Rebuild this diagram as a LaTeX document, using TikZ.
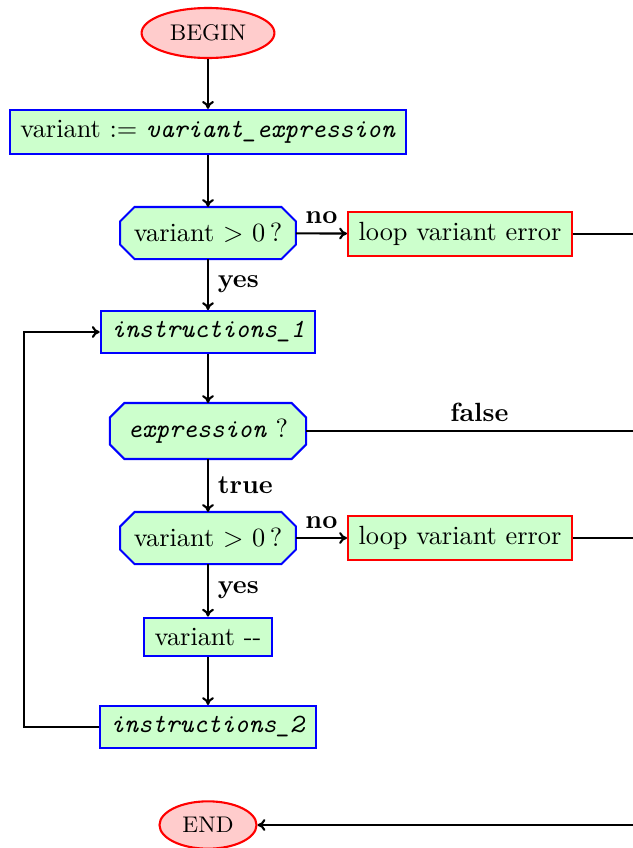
\documentclass[tikz,border=0pt]{standalone}
\usepackage{amsmath, amssymb}
\usetikzlibrary{arrows.meta, backgrounds, shapes.geometric}

\tikzset{
  terminal/.style={ellipse, draw=red, fill=red!20, thick, font=\fontsize{8.6pt}{10pt}\selectfont},
  stmt/.style={rectangle, draw=blue, fill=green!20, thick, inner sep=4pt},
  errbox/.style={rectangle, draw=red, fill=green!20, thick, inner sep=4pt},
  test/.style={rectangle, thick, inner xsep=6.45pt, inner ysep=5.6pt, minimum height=19pt},
  testframe/.style={draw=blue, fill=green!20, thick},
  flow/.style={-{To[length=3pt, width=4.5pt]}, line width=0.8pt},
  tag/.style={font=\bfseries}
}

\begin{document}
\begin{tikzpicture}[x=0.38pt, y=-0.38pt]
            \useasboundingbox (0,0) rectangle (633,848);

            \node[terminal, minimum width=49pt, minimum height=19pt] (begin) at (208,33) {BEGIN};
            \node[stmt] (init) at (208,132) {variant := \texttt{\itshape variant\_expression}};
            \node[test, inner xsep=4.8pt] (chk1) at (208,233) {variant > 0\,?};
            \node[errbox] (err1) at (460,234) {loop variant error};
            \node[stmt] (instr1) at (208,332) {\texttt{\itshape instructions\_1}};
            \node[test] (cond) at (208,431) {\texttt{\itshape expression}\ ?};
            \node[test, inner xsep=4.8pt] (chk2) at (208,538) {variant > 0\,?};
            \node[errbox] (err2) at (460,538) {loop variant error};
            \node[stmt] (dec) at (208,637) {variant -{}-};
            \node[stmt] (instr2) at (208,727) {\texttt{\itshape instructions\_2}};
            \node[terminal, minimum width=35pt, minimum height=18pt] (end) at (208,825) {END};

            % octagons behind the tests
            \begin{scope}[on background layer]
              \foreach \n in {chk1, cond, chk2}
                \filldraw[testframe] ([xshift=5.5pt]\n.north west) -- ([xshift=-5.5pt]\n.north east)
                  -- ([yshift=-5.5pt]\n.north east) -- ([yshift=5.5pt]\n.south east)
                  -- ([xshift=-5.5pt]\n.south east) -- ([xshift=5.5pt]\n.south west)
                  -- ([yshift=5.5pt]\n.south west) -- ([yshift=-5.5pt]\n.north west) -- cycle;
            \end{scope}

            \coordinate (r1) at (633,234);
            \coordinate (r2) at (633,431);
            \coordinate (r3) at (633,538);
            \coordinate (r4) at (633,825);
            \coordinate (back) at (24,727);

            \draw[flow] (begin) -- (init);
            \draw[flow] (init) -- (chk1);
            \draw[flow] (chk1) -- node[tag, above] {no} (err1);
            \draw[flow] (chk1) -- node[tag, right] {yes} (instr1);
            \draw[flow] (instr1) -- (cond);
            \draw[flow] (cond) -- node[tag, right] {true} (chk2);
            \draw[flow] (chk2) -- node[tag, above] {no} (err2);
            \draw[flow] (chk2) -- node[tag, right] {yes} (dec);
            \draw[flow] (dec) -- (instr2);
            \draw[flow] (instr2.west) -- (back) |- (instr1.west);

            \draw[line width=0.8pt] (err1) -- (r1);
            \draw[line width=0.8pt] (cond) -- node[tag, above, pos=0.53] {false} (r2);
            \draw[line width=0.8pt] (err2) -- (r3);
            \draw[flow] (r4) -- (end);
        \end{tikzpicture}
\end{document}
